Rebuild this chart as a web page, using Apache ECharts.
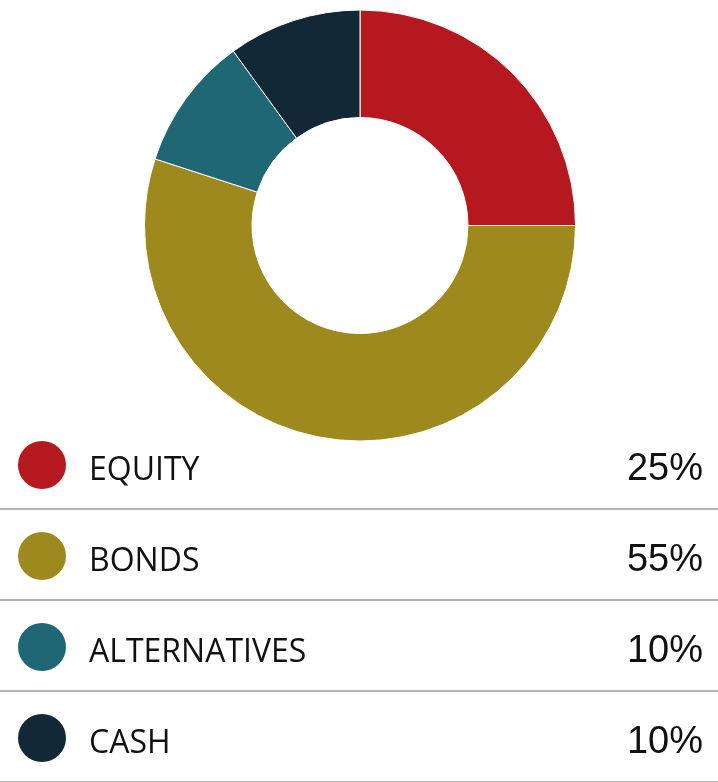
<!DOCTYPE html>
<html>
<head>
<meta charset="utf-8">
<title>Allocation</title>
<script src="https://cdn.jsdelivr.net/npm/echarts@6/dist/echarts.min.js"></script>
<style>
    html, body { margin: 0; padding: 0; background: #ffffff; }
    #chart { width: 718px; height: 782px; }
</style>
</head>
<body>
<div id="chart"></div>
<script>
    // 数据
    var categories = ['EQUITY', 'BONDS', 'ALTERNATIVES', 'CASH'];
    var weights = [25, 55, 10, 10];
    var colors = ['#B5181F', '#9E891E', '#1F6774', '#132836'];

    var pieData = [];
    for (var i = 0; i < categories.length; i++) {
        pieData.push({ name: categories[i], value: weights[i], itemStyle: { color: colors[i] } });
    }

    // 下方图例：圆点、名称、百分比、分隔线
    var rowTop = 418;
    var rowH = 91;
    var legendItems = [];
    categories.forEach(function (name, index) {
        var y = rowTop + index * rowH;
        legendItems.push({
            type: 'circle',
            shape: { cx: 42, cy: y + 47, r: 24 },
            style: { fill: colors[index] }
        });
        legendItems.push({
            type: 'text',
            x: 89, y: y + 53,
            style: {
                text: name,
                fill: '#111111',
                font: '32px "Open Sans"',
                textVerticalAlign: 'middle'
            }
        });
        legendItems.push({
            type: 'text',
            x: 703, y: y + 52,
            style: {
                text: weights[index] + '%',
                fill: '#111111',
                font: '38px "Liberation Sans"',
                textAlign: 'right',
                textVerticalAlign: 'middle'
            }
        });
        legendItems.push({
            type: 'line',
            shape: { x1: 0, y1: y + rowH, x2: 718, y2: y + rowH },
            style: { stroke: '#b4b4b4', lineWidth: 2 }
        });
    });

    var option = {
        backgroundColor: '#ffffff',
        animation: false,
        series: [
            {
                type: 'pie',
                center: [360, 225.5],
                radius: [108, 215.5],
                startAngle: 90,
                clockwise: true,
                label: { show: false },
                labelLine: { show: false },
                itemStyle: { borderColor: '#ffffff', borderWidth: 1 },
                emphasis: { scale: false },
                data: pieData
            }
        ],
        graphic: legendItems
    };

    var myChart = echarts.init(document.getElementById('chart'));
    myChart.setOption(option);
</script>
</body>
</html>
